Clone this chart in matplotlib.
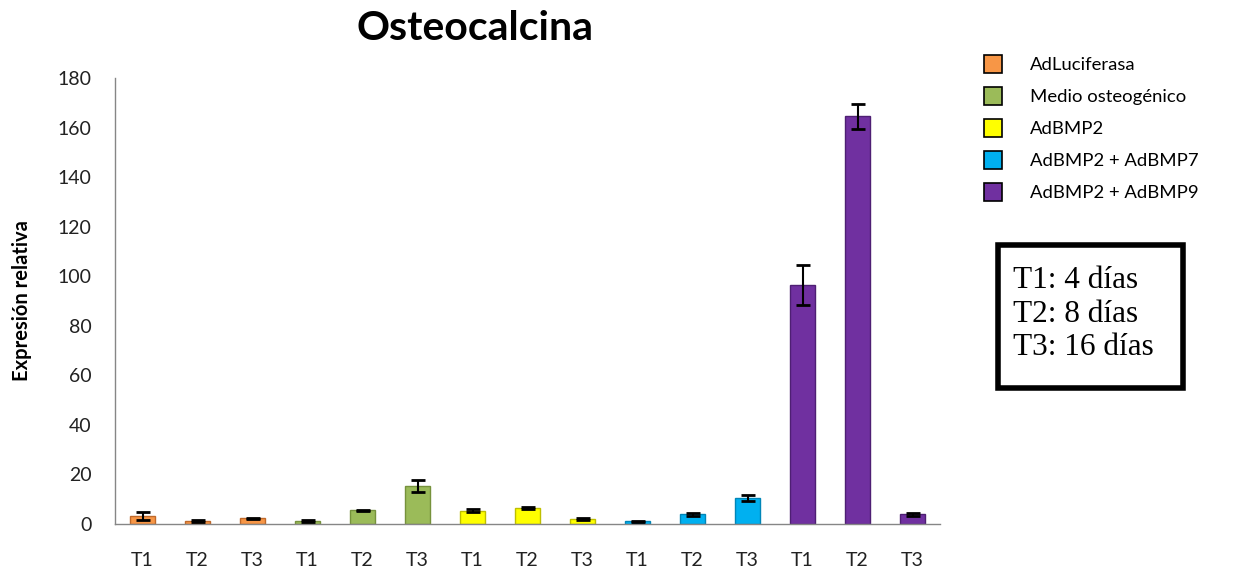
import numpy as np
import matplotlib.pyplot as plt
from matplotlib.lines import Line2D
from matplotlib.patches import Rectangle

# Datos
grupos = ["AdLuciferasa", "Medio osteogénico", "AdBMP2", "AdBMP2 + AdBMP7", "AdBMP2 + AdBMP9"]
tiempos = ["T1", "T2", "T3"]
colores = ["#F79646", "#9BBB59", "#FFFF00", "#00B0F0", "#7030A0"]
bordes = ["#C0692A", "#76923C", "#BFBF00", "#0086B8", "#4E1F73"]

valores = [
    [3.1, 1.3, 2.3],      # AdLuciferasa
    [1.3, 5.5, 15.4],     # Medio osteogénico
    [5.3, 6.6, 1.9],      # AdBMP2
    [1.1, 3.9, 10.5],     # AdBMP2 + AdBMP7
    [96.5, 164.5, 3.9],   # AdBMP2 + AdBMP9
]
errores = [
    [1.6, 0.3, 0.3],
    [0.3, 0.1, 2.4],
    [0.6, 0.4, 0.4],
    [0.3, 0.6, 1.4],
    [8.0, 5.0, 0.5],
]

plt.rcParams['font.family'] = ['Lato', 'DejaVu Sans']

fig = plt.figure(figsize=(12.37, 5.71), dpi=100)
ax = fig.add_axes([115 / 1237, 47 / 571, 825 / 1237, 446 / 571])

x = np.arange(15)
etiquetas = tiempos * 5
for i, g in enumerate(grupos):
    pos = x[i * 3:(i + 1) * 3]
    ax.bar(pos, valores[i], width=0.44, color=colores[i], edgecolor=bordes[i],
           linewidth=1.0, zorder=2)
    ax.errorbar(pos, valores[i], yerr=errores[i], fmt='none', ecolor='black',
                elinewidth=1.5, capsize=5, capthick=2, zorder=3)

ax.set_xlim(-0.5, 14.5)
ax.set_ylim(0, 180)
ax.set_yticks(np.arange(0, 181, 20))
ax.set_xticks(x)
ax.set_xticklabels(etiquetas)
ax.tick_params(axis='both', length=0, labelsize=14, colors='#222222')
ax.tick_params(axis='x', pad=20)
ax.tick_params(axis='y', pad=17)
for s in ['top', 'right']:
    ax.spines[s].set_visible(False)
for s in ['left', 'bottom']:
    ax.spines[s].set_color('#868686')
    ax.spines[s].set_linewidth(1.0)

fig.text(22 / 1237, 1 - 301 / 571, "Expresión relativa", fontsize=14.5, fontweight='bold',
         rotation=90, ha='center', va='center')
fig.text(475 / 1237, 1 - 40 / 571, "Osteocalcina", fontsize=29.5, fontweight='bold',
         ha='center', va='baseline')

manejadores = [Line2D([0], [0], marker='s', linestyle='none', markersize=13,
                      markerfacecolor=c, markeredgecolor='black', markeredgewidth=1.2)
               for c in colores]
fig.legend(manejadores, grupos, loc='upper left', bbox_to_anchor=(975 / 1237, 1 - 57 / 571),
           frameon=False, fontsize=13.3, labelspacing=0.87, handletextpad=0.97,
           borderaxespad=0, borderpad=0)

# Cuadro con los tiempos
fig.patches.append(Rectangle((998 / 1237, 1 - 388 / 571), 185 / 1237, 143 / 571,
                             transform=fig.transFigure, facecolor='white',
                             edgecolor='black', linewidth=4))
fig.text(1013 / 1237, 1 - 314 / 571, "T1: 4 días\nT2: 8 días\nT3: 16 días",
         family='Liberation Serif', fontsize=22.5, ha='left', va='center',
         linespacing=1.22)

fig.savefig("out.png", dpi=100)
